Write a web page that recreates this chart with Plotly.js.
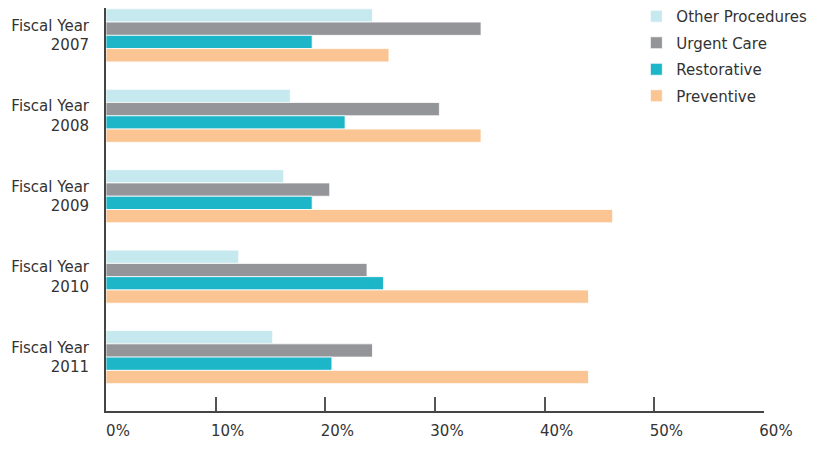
<!DOCTYPE html>
<html>
<head>
<meta charset="utf-8">
<script src="https://cdn.plot.ly/plotly-3.0.1.min.js"></script>
<style>html,body{margin:0;padding:0;background:#fff;}#chart{width:830px;height:456px;}</style>
</head>
<body>
<div id="chart"></div>
<script>
var categories = ["Fiscal Year<br>2007", "Fiscal Year<br>2008", "Fiscal Year<br>2009", "Fiscal Year<br>2010", "Fiscal Year<br>2011"];
var otherProcedures = [24.3, 16.8, 16.2, 12.1, 15.2];
var urgentCare = [34.2, 30.4, 20.4, 23.8, 24.3];
var restorative = [18.8, 21.8, 18.8, 25.3, 20.6];
var preventive = [25.8, 34.2, 46.2, 44.0, 44.0];
var tickValues = [0, 10, 20, 30, 40, 50, 60];
var tickLabels = ["0%", "10%", "20%", "30%", "40%", "50%", "60%"];

var series = [
  {name: "Other Procedures", values: otherProcedures, color: "#c6e8ef"},
  {name: "Urgent Care", values: urgentCare, color: "#939598"},
  {name: "Restorative", values: restorative, color: "#1db5c8"},
  {name: "Preventive", values: preventive, color: "#fbc593"}
];

var traces = series.map(function (s, i) {
  return {
    type: "bar",
    orientation: "h",
    name: s.name,
    x: s.values,
    y: categories,
    legendgroup: "g" + i,
    marker: {color: s.color, line: {color: "rgba(255,255,255,0.8)", width: 1}},
    hoverinfo: "x+name"
  };
});

var layout = {
  width: 830,
  height: 456,
  margin: {l: 106, r: 66, t: 8, b: 45, pad: 0, autoexpand: false},
  paper_bgcolor: "#fff",
  plot_bgcolor: "#fff",
  font: {family: "DejaVu Sans, Verdana, sans-serif", size: 15, color: "#333"},
  barmode: "group",
  bargap: 0.34,
  bargroupgap: 0,
  showlegend: true,
  legend: {
    x: 0.806, xanchor: "left", y: 1.0, yref: "container", yanchor: "top",
    bgcolor: "rgba(0,0,0,0)",
    tracegroupgap: 4,
    font: {size: 15, color: "#333"}
  },
  xaxis: {
    range: [0, 60],
    tickvals: tickValues,
    ticktext: tickLabels,
    ticks: "inside",
    ticklen: 14,
    tickwidth: 2,
    tickcolor: "#555",
    showline: true,
    linecolor: "#444",
    linewidth: 2,
    showgrid: false,
    zeroline: false,
    automargin: false,
    ticklabelshift: 12,
    ticklabelstandoff: 5
  },
  yaxis: {
    type: "category",
    categoryorder: "array",
    categoryarray: categories,
    range: [4.67, -0.34],
    showline: true,
    linecolor: "#444",
    linewidth: 2,
    ticks: "",
    showgrid: false,
    zeroline: false,
    automargin: false,
    ticklabelstandoff: 12
  }
};

Plotly.newPlot("chart", traces, layout, {displayModeBar: false, staticPlot: true});
</script>
</body>
</html>
